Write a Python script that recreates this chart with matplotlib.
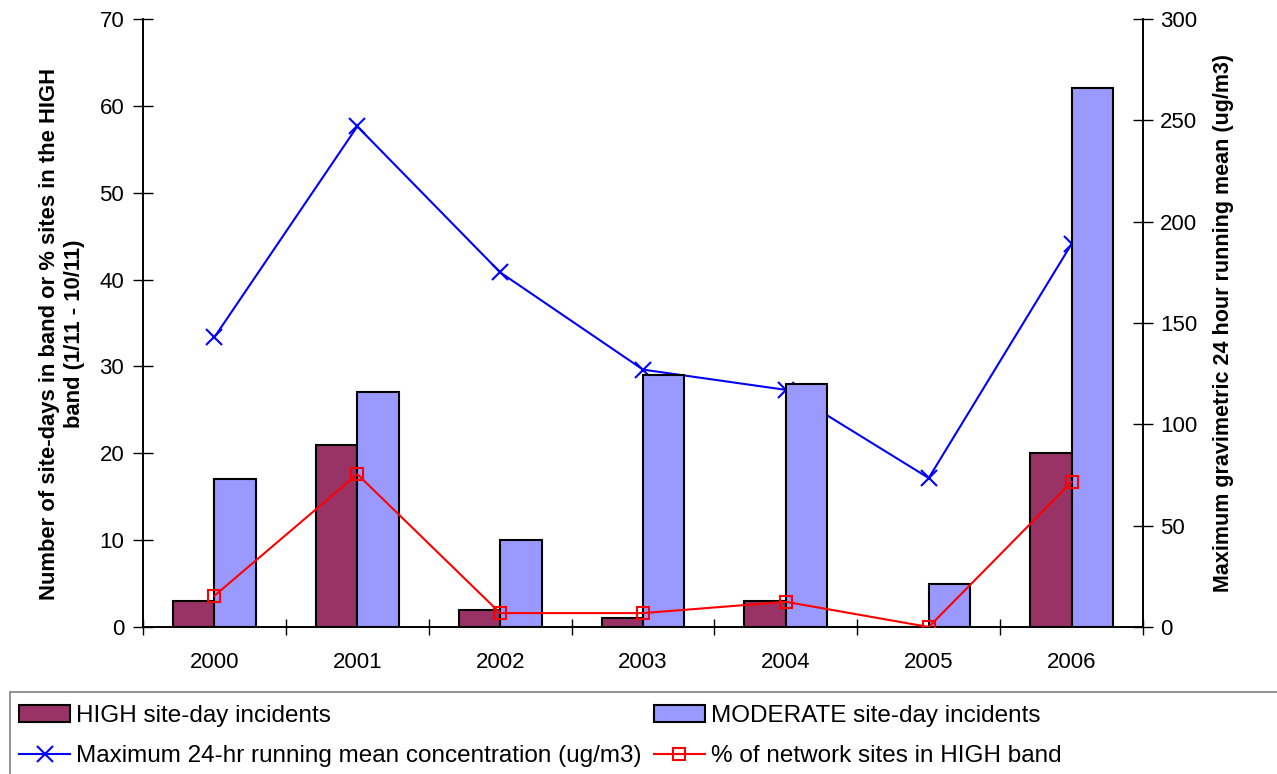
import numpy as np
import matplotlib.pyplot as plt
from matplotlib.patches import Rectangle

plt.rcParams['font.family'] = ['Liberation Sans', 'DejaVu Sans']

years = ["2000", "2001", "2002", "2003", "2004", "2005", "2006"]
high_days = [3, 21, 2, 1, 3, 0, 20]
moderate_days = [17, 27, 10, 29, 28, 5, 62]
max_running_mean = [143, 247, 175, 127, 117, 73.5, 189]
pct_sites_high = [3.6, 17.6, 1.6, 1.6, 2.9, 0, 16.7]

x = np.arange(len(years))
width = 0.29

fig = plt.figure(figsize=(12.77, 7.74), dpi=100)
ax = fig.add_axes([143 / 1277, 1 - 627 / 774, 1000 / 1277, 608 / 774])
ax2 = ax.twinx()

b1 = ax.bar(x - width / 2, high_days, width, color='#993366', edgecolor='black', linewidth=1.5,
            label='HIGH site-day incidents', zorder=2)
b2 = ax.bar(x + width / 2, moderate_days, width, color='#9999FF', edgecolor='black', linewidth=1.5,
            label='MODERATE site-day incidents', zorder=2)
l2, = ax.plot(x, pct_sites_high, color='#FF0000', marker='s', markersize=9, markerfacecolor='none',
              markeredgewidth=1.5, linewidth=1.5, label='% of network sites in HIGH band', zorder=4)
l1, = ax2.plot(x, max_running_mean, color='#0000FF', marker='x', markersize=11, markeredgewidth=1.5,
               linewidth=1.5, label='Maximum 24-hr running mean concentration (ug/m3)', zorder=4)

ax.set_xlim(-0.5, 6.5)
ax.set_ylim(0, 70)
ax2.set_ylim(0, 300)
ax.set_yticks(range(0, 71, 10))
ax2.set_yticks(range(0, 301, 50))

ax.set_xticks(x)
ax.set_xticklabels(years)
ax.set_xticks(np.arange(-0.5, 7, 1), minor=True)
ax.tick_params(axis='x', which='major', length=0, labelsize=16, pad=18)
ax.tick_params(axis='x', which='minor', length=12, direction='inout', width=1)
ax.tick_params(axis='y', length=15, direction='inout', labelsize=16, width=1, pad=6)
ax2.tick_params(axis='y', length=15, direction='inout', labelsize=16, width=1, pad=5)

for a in (ax, ax2):
    a.spines['top'].set_visible(False)
    for s in ('left', 'right', 'bottom'):
        a.spines[s].set_linewidth(1.2)
ax.set_zorder(ax2.get_zorder() + 1)
ax.patch.set_visible(False)

ax.set_ylabel('Number of site-days in band or % sites in the HIGH\nband (1/11 - 10/11)',
              fontsize=15.8, fontweight='bold', linespacing=1.25)
ax.yaxis.set_label_coords(-0.058, 0.482)
ax2.set_ylabel('Maximum gravimetric 24 hour running mean (ug/m3)', fontsize=15.5,
               fontweight='bold', labelpad=11)

# legend box runs off the right edge of the figure
fig.patches.append(Rectangle((10 / 1277, -0.01), 1.1, 1 - 692 / 774 + 0.01,
                             transform=fig.transFigure, facecolor='white',
                             edgecolor='#808080', linewidth=1.2))
fig.legend([b1, l1, b2, l2], [h.get_label() for h in (b1, l1, b2, l2)],
           loc='upper left', bbox_to_anchor=(2 / 1277, 1 - 688 / 774), ncol=2,
           frameon=False, fontsize=17.5, handlelength=2.1, handletextpad=0.25,
           columnspacing=0.5, labelspacing=0.74, borderpad=0.2)

fig.savefig('out.png', dpi=100)
